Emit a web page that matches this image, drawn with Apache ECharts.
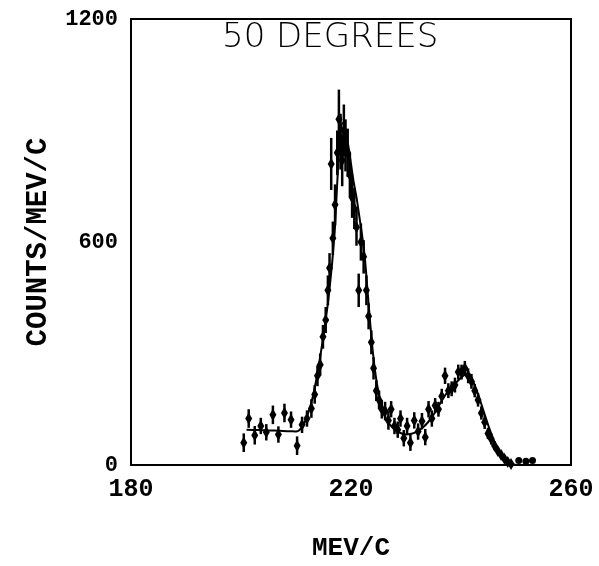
<!DOCTYPE html>
<html><head><meta charset="utf-8">
<script src="https://cdn.jsdelivr.net/npm/echarts@6/dist/echarts.min.js"></script>
<style>html,body{margin:0;padding:0;background:#fff}#c{width:599px;height:566px}</style>
</head><body><div id="c"></div>
<script>
// Measured points: momentum (MeV/c), counts per MeV/c, error bar half-length
const dataX = [200.5,201.4,202.5,203.6,204.6,205.8,206.8,207.9,209.1,210.2,211.1,212.0,212.8,213.4,213.9,214.4,214.9,215.4,215.8,216.1,216.4,216.7,217.1,217.5,217.8,218.1,218.4,218.7,219.0,219.4,219.8,220.2,220.6,221.0,221.4,221.8,222.3,222.8,223.2,223.7,224.1,224.6,225.1,225.6,226.2,226.8,227.3,227.9,228.5,229.0,229.6,230.2,230.8,231.5,232.2,232.9,233.5,234.1,234.7,235.3,235.9,236.5,237.1,237.7,238.3,238.9,239.5,240.1,240.7,241.3,241.9,242.5,243.1,243.7,244.3,244.9,245.5,246.1,246.7,247.3,247.9,248.5,249.1,250.5,251.8,253.0];
const dataY = [60,125,80,105,88,135,82,140,122,52,108,125,152,190,240,270,345,390,470,530,810,610,700,840,930,870,820,900,860,840,780,720,690,640,470,600,560,470,400,330,260,200,175,150,145,120,150,105,95,125,72,105,60,120,90,118,75,150,125,160,150,185,240,200,205,215,250,250,260,240,225,200,175,140,115,85,70,52,38,27,17,8,3,12,10,12];
const dataErr = [25,25,25,22,22,25,22,25,22,25,22,22,25,25,28,30,32,35,40,40,70,45,55,60,80,75,70,70,70,65,60,55,55,50,45,50,45,40,35,32,30,28,25,25,25,25,22,22,22,22,22,22,22,22,22,22,22,22,22,20,20,20,22,20,20,20,20,20,20,20,20,18,18,18,18,15,15,12,10,8,6,5,4,0,0,0];
// Fitted curve
const fitX = [201,203,205,207,209,210,211,212,213,214,215,216,217,217.5,218,218.5,219,219.5,220,220.5,221,221.5,222,222.5,223,223.5,224,224.5,225,225.5,226,227,228,229,230,231,232,233,234,235,236,237,238,239,240,241,241.5,242,243,244,245,246,247,248,249,250];
const fitY = [95,94,93,92,91,90,100,130,180,255,350,460,620,760,880,920,900,860,810,760,720,670,620,560,470,380,300,240,195,160,135,110,95,86,82,84,90,100,115,135,160,185,205,220,235,245,245,232,195,150,105,65,35,15,4,0];
const xTicks = [180,220,260];
const yTicks = [0,600,1200];

const points = dataX.map((x,i)=>[x,dataY[i],dataErr[i]]);
const fit = fitX.map((x,i)=>[x,fitY[i]]);

const chart = echarts.init(document.getElementById('c'), null, {renderer:'canvas'});
chart.setOption({
  animation:false,
  backgroundColor:'#fff',
  grid:{left:131,right:28,top:19,bottom:99,show:true,borderColor:'#000',borderWidth:2,backgroundColor:'transparent'},
  xAxis:{type:'value',min:xTicks[0],max:xTicks[xTicks.length-1],interval:40,
    axisLine:{show:false},axisTick:{show:false},splitLine:{show:false},
    axisLabel:{color:'#000',fontFamily:'Liberation Mono',fontWeight:'bold',fontSize:25,margin:12,formatter:v=>String(v)},
    name:'MEV/C',nameLocation:'middle',nameGap:70,
    nameTextStyle:{color:'#000',fontFamily:'Liberation Mono',fontWeight:'bold',fontSize:26}},
  yAxis:{type:'value',min:yTicks[0],max:yTicks[yTicks.length-1],interval:600,
    axisLine:{show:false},axisTick:{show:false},splitLine:{show:false},
    axisLabel:{color:'#000',fontFamily:'Liberation Mono',fontWeight:'bold',fontSize:22,margin:13,formatter:v=>String(v)},
    name:'COUNTS/MEV/C',nameLocation:'middle',nameGap:78,nameRotate:90,
    nameTextStyle:{color:'#000',fontFamily:'Liberation Mono',fontWeight:'bold',fontSize:29}},
  graphic:[{type:'text',left:222,top:21,style:{text:'50 DEGREES',fill:'#000',font:'300 34px "DejaVu Sans"'}}],
  series:[
    {type:'line',data:fit,smooth:0.3,symbol:'none',lineStyle:{color:'#000',width:2},z:2},
    {type:'custom',data:points,encode:{x:0,y:1},z:3,
     renderItem:function(params,api){
       const x=api.value(0),y=api.value(1),e=api.value(2);
       const c=api.coord([x,y]);
       const t=api.coord([x,y+e]);
       const b=api.coord([x,y-e]);
       const kids=[];
       if(e>0){kids.push({type:'line',shape:{x1:c[0],y1:t[1],x2:c[0],y2:b[1]},style:{stroke:'#000',lineWidth:2.5}});
         kids.push({type:'polygon',shape:{points:[[c[0],c[1]-6],[c[0]+3.5,c[1]],[c[0],c[1]+6],[c[0]-3.5,c[1]]]},style:{fill:'#000'}});}
       else {kids.push({type:'circle',shape:{cx:c[0],cy:c[1],r:3.5},style:{fill:'#000'}});}
       return {type:'group',children:kids};
     }}
  ]
});
</script></body></html>
